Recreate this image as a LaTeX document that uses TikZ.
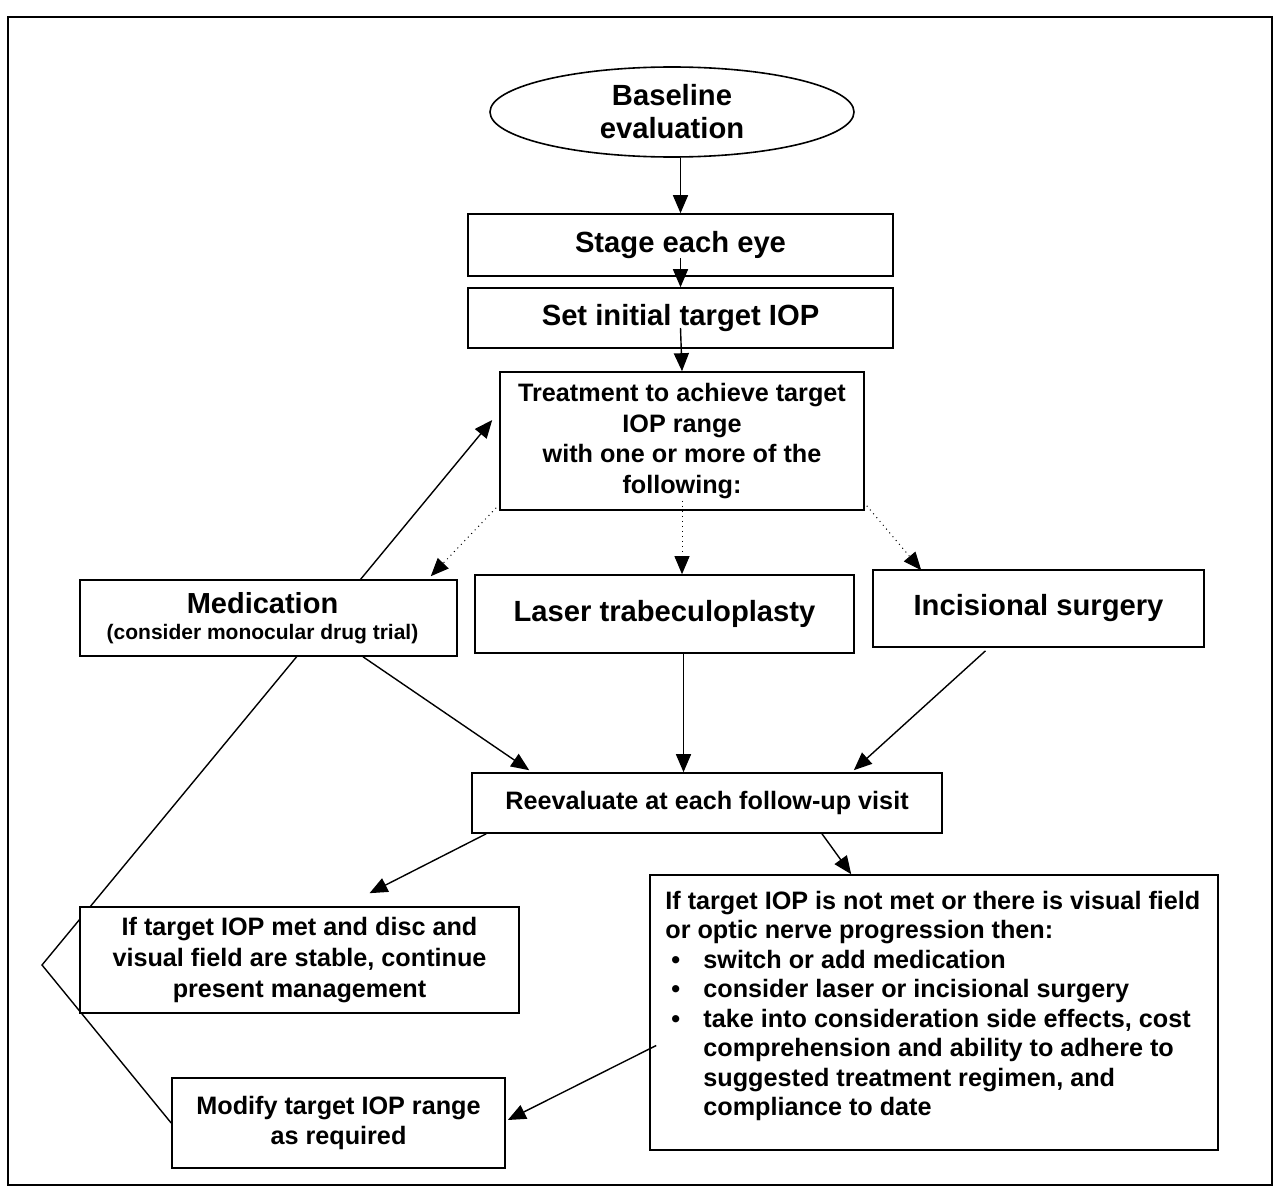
\documentclass[tikz,border=0pt]{standalone}
\usepackage{fontspec}
\setmainfont{Liberation Sans}
\usetikzlibrary{arrows.meta,shapes.geometric,calc,backgrounds}
\tikzset{
  box/.style={draw, line width=0.8pt, fill=white, inner sep=0pt, align=center},
  arr/.style={line width=0.7pt, -{Triangle[length=9pt,width=7.5pt]}},
  dotarr/.style={line width=0.5pt, dotted, -{Triangle[length=9pt,width=7.5pt]}},
  fbig/.style={font=\bfseries\fontsize{14.6}{16}\selectfont},
  fmid/.style={font=\bfseries\fontsize{12.6}{15.3}\selectfont},
}
\begin{document}
\begin{tikzpicture}[x=0.5pt,y=-0.5pt]
\useasboundingbox (0,0) rectangle (1278,1188);
% outer frame
\draw[line width=1.2pt] (8,17) rectangle (1272,1185);

% nodes
\node[box, ellipse, minimum width=182pt, minimum height=45pt,
      font=\bfseries\fontsize{14.6}{16.5}\selectfont] (base) at (672,112) {Baseline\\evaluation};
\node[box, fbig, minimum width=212.5pt, minimum height=31pt] (stage) at (680.5,245) {Stage each eye};
\node[box, fbig, minimum width=212.5pt, minimum height=30pt] (setiop) at (680.5,318) {Set initial target IOP};
\node[box, fmid, minimum width=182pt, minimum height=69pt] (treat) at (682,441)
  {Treatment to achieve target\\IOP range\\with one or more of the\\following:};
\node[box, minimum width=188.5pt, minimum height=38pt] (med) at (268.5,618)
  {\hspace*{-6pt}{\bfseries\fontsize{14.5}{15}\selectfont Medication}\\[1pt]
   \hspace*{-6pt}{\bfseries\fontsize{10.5}{11.5}\selectfont (consider monocular drug trial)}};
\node[box, fbig, minimum width=189.5pt, minimum height=39pt] (laser) at (664.5,614) {Laser trabeculoplasty};
\node[box, fbig, minimum width=165.5pt, minimum height=38.5pt] (incis) at (1038.5,608.5) {Incisional surgery};
\node[box, fmid, minimum width=235pt, minimum height=30pt] (reev) at (707,803) {Reevaluate at each follow-up visit};
\node[box, fmid, minimum width=219.5pt, minimum height=53pt] (stable) at (299.5,960)
  {If target IOP met and disc and\\visual field are stable, continue\\present management};
\node[box, minimum width=284pt, minimum height=137.5pt] (notmet) at (934,1012.5) {};
\node[anchor=north west, inner sep=0pt, align=left, font=\bfseries\fontsize{12.6}{14.75}\selectfont]
  (notmettxt) at (665,888)
  {\begin{tabular}{@{}p{19pt}@{}l@{}}
   \multicolumn{2}{@{}l@{}}{If target IOP is not met or there is visual field}\\
   \multicolumn{2}{@{}l@{}}{or optic nerve progression then:}\\
   \hspace{3pt}\textbullet & switch or add medication\\
   \hspace{3pt}\textbullet & consider laser or incisional surgery\\
   \hspace{3pt}\textbullet & take into consideration side effects, cost\\
    & comprehension and ability to adhere to\\
    & suggested treatment regimen, and\\
    & compliance to date
   \end{tabular}};
\node[box, fmid, minimum width=166.5pt, minimum height=45pt] (modify) at (338.5,1123)
  {Modify target IOP range\\as required};

% feedback line behind the boxes
\coordinate (kink) at (42,965);
\begin{scope}[on background layer]
\draw[arr] (modify.west) -- (kink) -- ($(treat.west)+(-7,-21)$);
\end{scope}

% connectors
\draw[arr] (stage.north |- base.south) -- (stage.north);
\draw[arr] ($(stage.center)+(0,13)$) -- (setiop.north);
\draw[arr] ($(setiop.center)+(0,10)$) -- (treat.north);

\draw[dotarr] ($(treat.south west)+(-3,-3)$) -- ($(med.north east)+(-27,-3)$);
\draw[dotarr] ($(treat.south)+(0,-10)$) -- (treat.south |- laser.north);
\draw[dotarr] ($(treat.south east)+(2,-5)$) -- ($(incis.north west)+(49,1)$);

\draw[arr] ($(med.south)+(94.5,0)$) -- ($(reev.north west)+(58,-2)$);
\coordinate (ls) at ($(laser.south)+(19,0)$);
\draw[arr] (ls) -- (ls |- reev.north);
\draw[arr] ($(incis.south)+(-53,3)$) -- ($(reev.north east)+(-89,-2)$);

\draw[arr] ($(reev.south west)+(15,0)$) -- ($(stable.north)+(70,-13)$);
\draw[arr] ($(reev.south)+(115,0)$) -- ($(notmet.north west)+(202,0)$);
\draw[arr] ($(notmet.west)+(7,33)$) -- ($(modify.east)+(2,-3)$);
\end{tikzpicture}
\end{document}
